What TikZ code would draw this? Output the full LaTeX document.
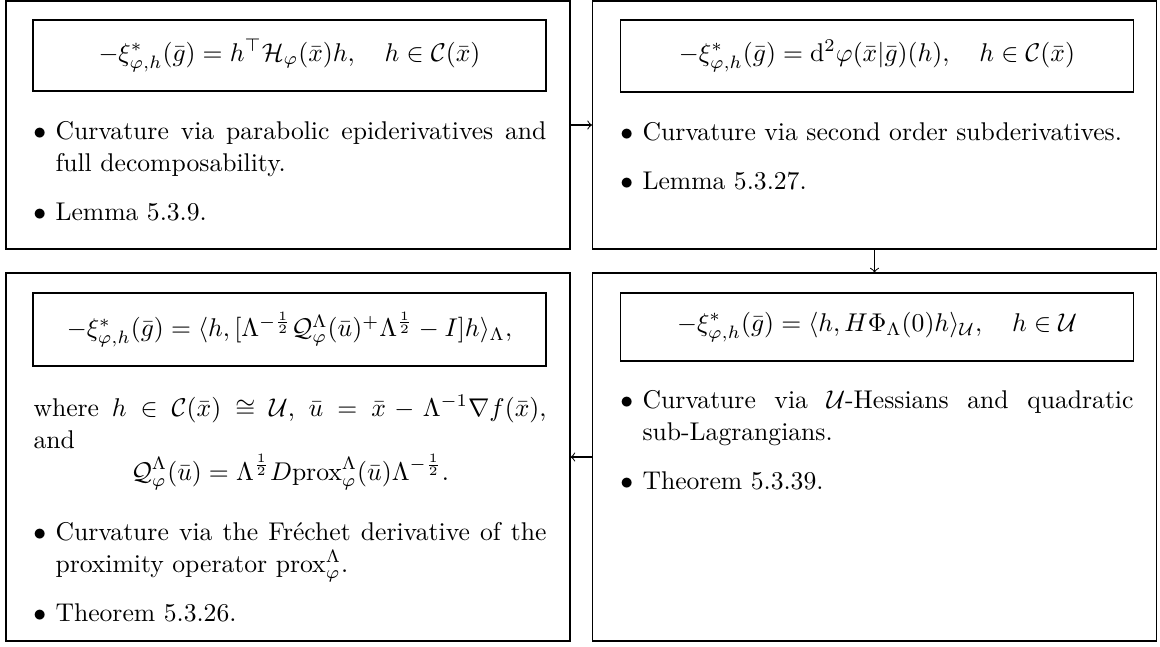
\documentclass[tikz,border=0pt]{standalone}
\usepackage{amsmath,amssymb}
\newlength\px
\setlength\px{0.39pt}
\newenvironment{bul}{\begin{list}{$\bullet$}{%
  \setlength\leftmargin{22\px}\setlength\labelsep{3.6pt}\setlength\labelwidth{5pt}%
  \setlength\topsep{0pt}\setlength\partopsep{0pt}%
  \setlength\parsep{2pt plus 1pt minus 1pt}\setlength\itemsep{4.6pt plus 2pt minus 1pt}}}%
  {\end{list}}
\tikzset{
  outer/.style={draw, inner sep=0pt, minimum width=564\px},
  formbox/.style={draw, inner sep=0pt, minimum width=513\px},
  body/.style={inner sep=0pt, text width=513\px, align=justify, anchor=base west,
    font=\fontsize{10pt}{12.5pt}\selectfont},
  link/.style={->}
}
\begin{document}
\begin{tikzpicture}[x=\px, y=-\px]
\useasboundingbox (0,0) rectangle (1160,646);
% outer boxes
\node[outer, minimum height=248\px] (tl) at (288,125) {};
\node[outer, minimum height=248\px] (tr) at (874.5,125) {};
\node[outer, minimum height=368\px] (bl) at (288,457) {};
\node[outer, minimum height=368\px] (br) at (874.5,457) {};
% formula boxes
\node[formbox, minimum height=71\px] (ftl) at (289.5,55.5)
  {$-\xi^*_{\varphi,h}(\bar g) = h^{\top}\mathcal{H}_{\varphi}(\bar x)h, \quad h\in\mathcal{C}(\bar x)$};
\node[formbox, minimum height=72\px] (ftr) at (877,56)
  {$-\xi^*_{\varphi,h}(\bar g) = \mathrm{d}^2\varphi(\bar x|\bar g)(h), \quad h\in\mathcal{C}(\bar x)$};
\node[formbox, minimum height=73\px] (fbl) at (289.5,329.5)
  {$-\xi^*_{\varphi,h}(\bar g) = \langle h, [\Lambda^{-\frac{1}{2}}\mathcal{Q}^{\Lambda}_{\varphi}(\bar u)^{+}\Lambda^{\frac{1}{2}} - I]h\rangle_{\Lambda},$};
\node[formbox, minimum height=68\px] (fbr) at (877,327)
  {$-\xi^*_{\varphi,h}(\bar g) = \langle h, H\Phi_{\Lambda}(0)h\rangle_{\mathcal{U}}, \quad h\in\mathcal{U}$};
% bodies
\node[body] (btl) at (33,107) {\begin{bul}
  \item Curvature via parabolic epiderivatives and full decomposability.
  \item Lemma 5.3.9.
  \end{bul}};
\node[body] (btr) at (620,108) {\begin{bul}
  \item Curvature via second order subderivatives.
  \item Lemma 5.3.27.
  \end{bul}};
\node[body] (wbl) at (33,416) {where $h\in\mathcal{C}(\bar x)\cong\mathcal{U}$, $\bar u = \bar x - \Lambda^{-1}\nabla f(\bar x)$,\linebreak and
  \[\mathcal{Q}^{\Lambda}_{\varphi}(\bar u) = \Lambda^{\frac{1}{2}} D\mathrm{prox}^{\Lambda}_{\varphi}(\bar u)\Lambda^{-\frac{1}{2}}.\]};
\node[body] (bbl) at (33,508) {\begin{bul}
  \item Curvature via the Fr\'echet derivative of the proximity operator $\mathrm{prox}^{\Lambda}_{\varphi}$.
  \item Theorem 5.3.26.
  \end{bul}};
\node[body] (bbr) at (620,376) {\begin{bul}
  \item Curvature via $\mathcal{U}$-Hessians and quadratic sub-Lagrangians.
  \item Theorem 5.3.39.
  \end{bul}};
% connectors
\draw[link] (tl.east) -- (tr.west);
\draw[link] (tr.south) -- (br.north);
\draw[link] (br.west) -- (bl.east);
\end{tikzpicture}
\end{document}
